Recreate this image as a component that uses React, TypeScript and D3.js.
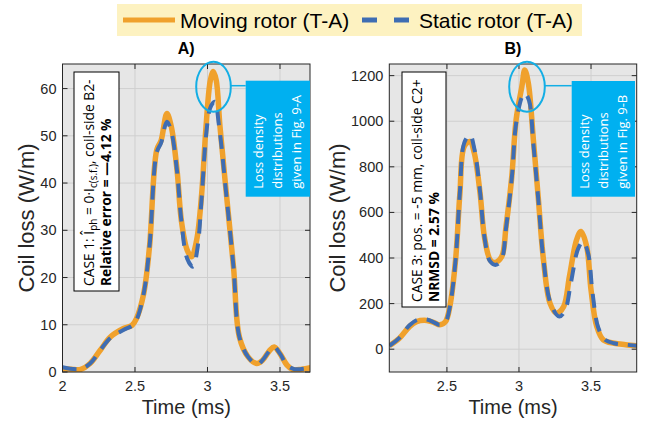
import React from "react";
import * as d3 from "d3";

// panel A: CASE 1
const timeA_moving = [2.0, 2.06, 2.12, 2.19, 2.26, 2.33, 2.42, 2.48, 2.51, 2.56, 2.6, 2.65, 2.68, 2.72, 2.75, 2.79, 2.82, 2.86, 2.89, 2.925, 2.96, 2.99, 3.02, 3.04, 3.06, 3.086, 3.13, 3.18, 3.22, 3.28, 3.34, 3.38, 3.43, 3.46, 3.5, 3.55, 3.59, 3.65, 3.71];
const lossA_moving = [0.7, 0.6, 0.5, 1.8, 4.6, 7.4, 9.2, 9.9, 11.3, 16.6, 26.5, 47, 49, 54.7, 52, 42.7, 32, 25.8, 24.4, 27.9, 37.8, 52, 61.8, 63.6, 61.8, 52, 37.8, 22, 7.4, 3.2, 1.8, 2.5, 4.6, 5.3, 3.9, 1.4, 0.5, 0.6, 0.9];
const timeA_static = [2.0, 2.12, 2.19, 2.26, 2.33, 2.42, 2.48, 2.51, 2.56, 2.6, 2.65, 2.68, 2.72, 2.75, 2.79, 2.82, 2.86, 2.9, 2.93, 2.96, 2.99, 3.02, 3.05, 3.08, 3.13, 3.18, 3.22, 3.28, 3.34, 3.38, 3.43, 3.46, 3.5, 3.55, 3.6, 3.71];
const lossA_static = [1.0, 0.6, 1.8, 4.6, 7.2, 8.9, 9.8, 11, 16.6, 26.5, 46.5, 48.5, 53, 51, 42.5, 32, 24, 22.3, 26, 37, 50, 56, 57.2, 52, 37.5, 22, 7.4, 3.2, 1.6, 2.5, 4.6, 5.3, 3.9, 1.4, 0.6, 0.9];

// panel B: CASE 3
const timeB_moving = [2.1, 2.17, 2.24, 2.29, 2.36, 2.41, 2.45, 2.49, 2.52, 2.56, 2.59, 2.62, 2.66, 2.69, 2.73, 2.76, 2.8, 2.83, 2.88, 2.91, 2.95, 2.98, 3.02, 3.04, 3.065, 3.1, 3.135, 3.17, 3.215, 3.26, 3.31, 3.35, 3.4, 3.43, 3.47, 3.5, 3.54, 3.585, 3.66, 3.74, 3.82];
const lossB_moving = [15, 48, 99, 121, 126, 117, 107, 121, 187, 392, 684, 889, 911, 860, 684, 494, 392, 380, 406, 538, 757, 1006, 1152, 1225, 1167, 918, 655, 392, 202, 158, 187, 319, 480, 516, 450, 260, 99, 41, 26, 20, 15];
const timeB_static = [2.1, 2.17, 2.24, 2.3, 2.36, 2.41, 2.45, 2.49, 2.52, 2.56, 2.59, 2.62, 2.66, 2.69, 2.73, 2.76, 2.8, 2.84, 2.88, 2.91, 2.95, 2.98, 3.02, 3.04, 3.07, 3.1, 3.135, 3.17, 3.22, 3.28, 3.32, 3.36, 3.41, 3.445, 3.48, 3.51, 3.55, 3.6, 3.66, 3.74, 3.82];
const lossB_static = [15, 50, 105, 130, 130, 118, 106, 120, 185, 392, 690, 905, 940, 880, 690, 494, 385, 370, 395, 530, 750, 990, 1105, 1123, 1090, 900, 650, 392, 200, 143, 170, 290, 440, 472, 420, 250, 95, 40, 26, 20, 15];

const xTicksA = [2, 2.5, 3, 3.5];
const yTicksA = [0, 10, 20, 30, 40, 50, 60];
const xTicksB = [2.5, 3, 3.5];
const yTicksB = [0, 200, 400, 600, 800, 1000, 1200];

const legendLabels = ["Moving rotor (T-A)", "Static rotor (T-A)"];

const ORANGE = "#f0a12c";
const BLUE = "#3e6db3";
const CYAN = "#00b0f0";
const AXIS = "#262626";
const SANS = "'Liberation Sans', Arial, sans-serif";
const NOTE = "'Open Sans', sans-serif";

type PanelProps = {
  id: string;
  title: string;
  left: number;
  right: number;
  top: number;
  bottom: number;
  xDomain: [number, number];
  yDomain: [number, number];
  xTicks: number[];
  yTicks: number[];
  moving: [number[], number[]];
  stat: [number[], number[]];
  labelX: number;
  caseBox: { x: number; y: number; w: number; h: number };
  caseLines: React.ReactNode[];
  ellipse: { cx: number; cy: number; rx: number; ry: number };
  note: { x: number; y: number; w: number; h: number };
  noteText: string[];
};

function Panel(p: PanelProps) {
  const x = d3.scaleLinear().domain(p.xDomain).range([p.left, p.right]);
  const y = d3.scaleLinear().domain(p.yDomain).range([p.bottom, p.top]);
  const line = d3
    .line<[number, number]>()
    .curve(d3.curveCatmullRom.alpha(0.5))
    .x((d) => x(d[0]))
    .y((d) => y(d[1]));
  const mv = p.moving[0].map((t, i) => [t, p.moving[1][i]] as [number, number]);
  const st = p.stat[0].map((t, i) => [t, p.stat[1][i]] as [number, number]);
  const w = p.right - p.left;
  const h = p.bottom - p.top;
  const cx = (p.left + p.right) / 2;

  return (
    <g>
      <defs>
        <clipPath id={"clip" + p.id}>
          <rect x={p.left} y={p.top} width={w} height={h} />
        </clipPath>
      </defs>
      <rect x={p.left} y={p.top} width={w} height={h} fill="#e6e6e6" />
      {p.xTicks.map((t) => (
        <line key={"gx" + t} x1={x(t)} x2={x(t)} y1={p.top} y2={p.bottom} stroke="#cfcfcf" strokeWidth={1} />
      ))}
      {p.yTicks.map((t) => (
        <line key={"gy" + t} x1={p.left} x2={p.right} y1={y(t)} y2={y(t)} stroke="#cfcfcf" strokeWidth={1} />
      ))}
      <g clipPath={`url(#clip${p.id})`}>
        <path d={line(mv) || ""} fill="none" stroke={ORANGE} strokeWidth={5.5} strokeLinejoin="round" />
        <path d={line(st) || ""} fill="none" stroke={BLUE} strokeWidth={4} strokeDasharray="14,10" />
      </g>
      <rect x={p.left} y={p.top} width={w} height={h} fill="none" stroke={AXIS} strokeWidth={1} />
      {p.xTicks.map((t) => (
        <g key={"tx" + t}>
          <line x1={x(t)} x2={x(t)} y1={p.bottom} y2={p.bottom - 5} stroke={AXIS} />
          <line x1={x(t)} x2={x(t)} y1={p.top} y2={p.top + 5} stroke={AXIS} />
          <text x={x(t)} y={p.bottom + 19} textAnchor="middle" fontSize={14.5} fill={AXIS} fontFamily={SANS}>
            {t}
          </text>
        </g>
      ))}
      {p.yTicks.map((t) => (
        <g key={"ty" + t}>
          <line x1={p.left} x2={p.left + 5} y1={y(t)} y2={y(t)} stroke={AXIS} />
          <line x1={p.right} x2={p.right - 5} y1={y(t)} y2={y(t)} stroke={AXIS} />
          <text x={p.left - 6} y={y(t) + 5} textAnchor="end" fontSize={14.5} fill={AXIS} fontFamily={SANS}>
            {t}
          </text>
        </g>
      ))}
      <text x={cx} y={54} textAnchor="middle" fontSize={16} fontWeight="bold" fill="#000" fontFamily={SANS}>
        {p.title}
      </text>
      <text x={cx} y={414} textAnchor="middle" fontSize={20} fill={AXIS} fontFamily={SANS}>
        Time (ms)
      </text>
      <text
        transform={`translate(${p.labelX},${(p.top + p.bottom) / 2}) rotate(-90)`}
        textAnchor="middle"
        fontSize={22}
        fill={AXIS}
        fontFamily={SANS}
      >
        Coil loss (W/m)
      </text>

      {/* case description */}
      <rect x={p.caseBox.x} y={p.caseBox.y} width={p.caseBox.w} height={p.caseBox.h} fill="#fff" stroke="#000" strokeWidth={1} />
      {p.caseLines.map((ln, i) => (
        <text
          key={"c" + i}
          transform={`translate(${p.caseBox.x + 20 + i * 17},${p.caseBox.y + p.caseBox.h - 5}) rotate(-90)`}
          fontSize={13.8}
          fill="#000"
          fontFamily={NOTE}
          fontWeight={i === 1 ? "bold" : "normal"}
        >
          {ln}
        </text>
      ))}

      {/* highlight */}
      <ellipse cx={p.ellipse.cx} cy={p.ellipse.cy} rx={p.ellipse.rx} ry={p.ellipse.ry} fill="none" stroke="#13aee5" strokeWidth={2} />
      <line x1={p.ellipse.cx + p.ellipse.rx} x2={p.note.x} y1={p.ellipse.cy - 1} y2={p.ellipse.cy - 1} stroke="#13aee5" strokeWidth={1.5} />
      <rect x={p.note.x} y={p.note.y} width={p.note.w} height={p.note.h} fill={CYAN} />
      {p.noteText.map((s, i) => (
        <text
          key={"n" + i}
          transform={`translate(${p.note.x + 17 + i * 19},${p.note.y + p.note.h - 8}) rotate(-90)`}
          fontSize={13}
          fill="#fff"
          fontFamily={NOTE}
        >
          {s}
        </text>
      ))}
    </g>
  );
}

export default function App() {
  return (
    <svg width={651} height={425} style={{ position: "absolute", left: 0, top: 0, background: "#fff" }}>
      {/* legend */}
      <rect x={117} y={4} width={465} height={32} fill="#fdf2c1" />
      <line x1={123} x2={175} y1={20} y2={20} stroke={ORANGE} strokeWidth={5} />
      <text x={180} y={28} fontSize={21} fill="#000" fontFamily={SANS}>
        {legendLabels[0]}
      </text>
      <line x1={362} x2={409} y1={20} y2={20} stroke={BLUE} strokeWidth={5} strokeDasharray="15,17" />
      <text x={419} y={28} fontSize={21} fill="#000" fontFamily={SANS}>
        {legendLabels[1]}
      </text>

      <Panel
        id="A"
        title="A)"
        left={62.5}
        right={310}
        top={64}
        bottom={372}
        xDomain={[2, 3.707]}
        yDomain={[0, 65.2]}
        xTicks={xTicksA}
        yTicks={yTicksA}
        moving={[timeA_moving, lossA_moving]}
        stat={[timeA_static, lossA_static]}
        labelX={34}
        caseBox={{ x: 74, y: 72, w: 45, h: 219 }}
        caseLines={[
          <>
            CASE 1: Î<tspan fontSize={10} dy={3}>ph</tspan>
            <tspan dy={-3}> = 0·I</tspan>
            <tspan fontSize={10} dy={3}>c(s.f.)</tspan>
            <tspan dy={-3}>, coil-side B2-</tspan>
          </>,
          "Relative error = —4.12 %",
        ]}
        ellipse={{ cx: 213.5, cy: 86.7, rx: 17.3, ry: 25 }}
        note={{ x: 245.7, y: 80.7, w: 64.3, h: 116 }}
        noteText={["Loss density", "distributions", "given in Fig. 9-A"]}
      />
      <Panel
        id="B"
        title="B)"
        left={389.3}
        right={636.7}
        top={64}
        bottom={372}
        xDomain={[2.1, 3.817]}
        yDomain={[-100, 1251]}
        xTicks={xTicksB}
        yTicks={yTicksB}
        moving={[timeB_moving, lossB_moving]}
        stat={[timeB_static, lossB_static]}
        labelX={345}
        caseBox={{ x: 402, y: 72, w: 44, h: 235 }}
        caseLines={["CASE 3: pos. = -5 mm, coil-side C2+", "NRMSD = 2.57 %"]}
        ellipse={{ cx: 527, cy: 86.7, rx: 17.8, ry: 25 }}
        note={{ x: 571.7, y: 81, w: 63.3, h: 115.7 }}
        noteText={["Loss density", "distributions", "given in Fig. 9-B"]}
      />
    </svg>
  );
}
